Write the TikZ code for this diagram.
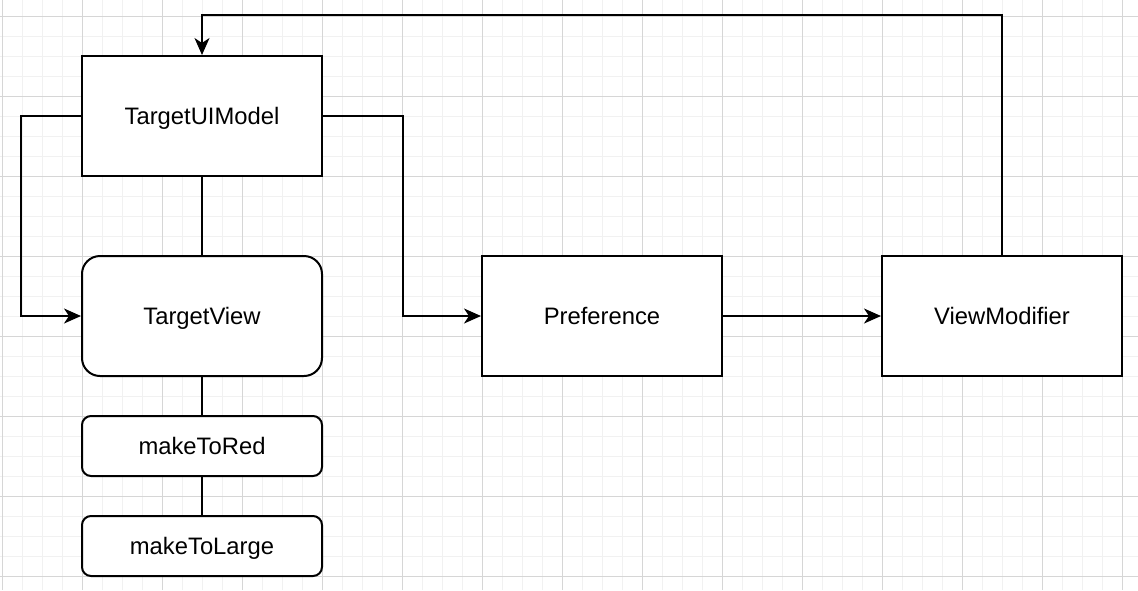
\documentclass[tikz,border=0pt]{standalone}
\usepackage{fontspec}
\setmainfont{Liberation Sans}
\usetikzlibrary{arrows.meta}
\definecolor{gridmajor}{HTML}{D6D6D6}
\definecolor{gridminor}{HTML}{F1F1F1}
\begin{document}
\begin{tikzpicture}[x=1pt,y=-1pt,
  box/.style={draw, line width=2pt, fill=white, minimum width=240pt, minimum height=120pt, inner sep=0pt, text height=17pt, text depth=0pt, font=\fontsize{23.8}{28}\selectfont},
  rbox/.style={box, rounded corners=18pt},
  sbox/.style={box, minimum height=60pt, rounded corners=9pt},
  link/.style={line width=2pt},
  arr/.style={line width=2pt, -{Stealth[length=17pt,width=15pt,inset=5pt]}}]
\useasboundingbox (0,0) rectangle (1138,590);
\fill[white] (0,0) rectangle (1138,590);
\foreach \x in {2,22,...,1122} \draw[gridminor, line width=1pt] (\x,0) -- (\x,590);
\foreach \y in {16,36,...,576} \draw[gridminor, line width=1pt] (0,\y) -- (1138,\y);
\foreach \x in {2,82,...,1122} \draw[gridmajor, line width=1pt] (\x,0) -- (\x,590);
\foreach \y in {16,96,...,576} \draw[gridmajor, line width=1pt] (0,\y) -- (1138,\y);

\node[box]  (uim)  at (202,116) {TargetUIModel};
\node[rbox] (tv)   at (202,316) {TargetView};
\node[sbox] (red)  at (202,446) {makeToRed};
\node[sbox] (large) at (202,546) {makeToLarge};
\node[box]  (pref) at (602,316) {Preference};
\node[box]  (vm)   at (1002,316) {ViewModifier};

\draw[link] (uim.south) -- (tv.north);
\draw[link] (tv.south) -- (red.north);
\draw[link] (red.south) -- (large.north);
\draw[arr] (uim.west) -- ++(-60,0) |- (tv.west);
\draw[arr] (uim.east) -- ++(80,0) |- (pref.west);
\draw[arr] (pref.east) -- (vm.west);
\draw[arr] (vm.north) -- ++(0,-240) -| (uim.north);
\end{tikzpicture}
\end{document}
